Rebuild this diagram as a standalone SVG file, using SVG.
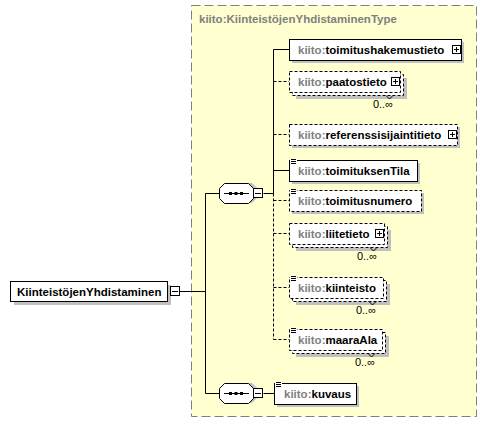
<svg xmlns="http://www.w3.org/2000/svg" width="487" height="424" viewBox="0 0 487 424">
<defs>
<style>
.t{font-family:"Liberation Sans",Arial,sans-serif;font-size:11.5px;font-weight:bold;fill:#000}
.ns{fill:#808080}
.occ{font-family:"Liberation Sans",Arial,sans-serif;font-size:11px;fill:#000}
.box{fill:#fff;stroke:#000;stroke-width:1}
.dbox{fill:#fff;stroke:#000;stroke-width:1;stroke-dasharray:3,2}
.sh{fill:#c0c0c0}
.ln{stroke:#000;stroke-width:1;fill:none}
.dl{stroke:#000;stroke-width:1;fill:none;stroke-dasharray:3,2}
</style>
<g id="plus"><rect x="0.5" y="0.5" width="8" height="8" fill="#fff" stroke="#000"/><path d="M2 4.5H7M4.5 2V7" stroke="#000"/></g>
<g id="minus"><rect x="0.5" y="0.5" width="9" height="9" fill="#fff" stroke="#000"/><path d="M2 5.5H8" stroke="#000"/></g>
<g id="icon"><rect x="0" y="0" width="7" height="6" fill="#fff"/><path d="M1 0.5H6M1 2.5H6M1 4.5H6" stroke="#000"/></g>
<g id="seq">
<polygon points="4,5 9,0 33,0 38,5 38,15 33,20 9,20 4,15" fill="#c0c0c0"/>
<polygon points="0.5,5.5 5.5,0.5 29.5,0.5 34.5,5.5 34.5,15.5 29.5,20.5 5.5,20.5 0.5,15.5" fill="#fff" stroke="#000"/>
<path d="M5 10.5H30" stroke="#000"/>
<rect x="10" y="9" width="3" height="3"/><rect x="15.5" y="9" width="3" height="3"/><rect x="21" y="9" width="3" height="3"/>
</g>
<path id="tick" d="M0 0L3.5 3.5L7 0" fill="none" stroke="#000"/>
</defs>

<g id="type">
<rect x="191.5" y="5.5" width="285" height="411" fill="#FFFFD0" stroke="#808080" stroke-dasharray="9,4"/>
<text x="199" y="23" class="t ns">kiito:KiinteistöjenYhdistaminenType</text>
</g>

<g id="connectors">
<path class="ln" d="M179 291.5H205.5M205.5 193.5V393.5M205.5 193.5H219M205.5 393.5H219"/>
<path class="ln" d="M263.5 193.5H273.5M273.5 49.5V193.5M273.5 49.5H289M273.5 170.5H289"/>
<path class="dl" d="M273.5 193.5V339.5"/>
<path class="dl" d="M273.5 81.5H289M273.5 134.5H289M273.5 200.5H289M273.5 233.5H289M273.5 287.5H289M273.5 339.5H289"/>
<path class="ln" d="M263.5 393.5H274.5"/>
</g>

<g id="root">
<rect class="sh" x="14" y="285" width="157" height="20"/>
<rect class="box" x="10.5" y="281.5" width="157" height="20"/>
<text class="t" x="17" y="296">KiinteistöjenYhdistaminen</text>
<use href="#minus" x="170" y="286"/>
</g>

<g id="sequence1">
<use href="#seq" x="219" y="183"/>
<use href="#minus" x="253" y="188"/>
</g>

<g id="sequence2">
<use href="#seq" x="219" y="383"/>
<use href="#minus" x="253" y="388"/>
</g>

<g id="toimitushakemustieto">
<rect class="sh" x="292" y="42" width="172" height="21"/>
<rect class="box" x="289.5" y="39.5" width="172" height="21"/>
<text class="t" x="298" y="54"><tspan class="ns">kiito:</tspan>toimitushakemustieto</text>
<use href="#plus" x="452" y="45"/>
</g>

<g id="paatostieto">
<rect class="sh" x="296" y="78" width="111" height="21"/>
<rect class="dbox" x="292.5" y="74.5" width="111" height="21"/>
<rect class="dbox" x="289.5" y="71.5" width="111" height="21"/>
<text class="t" x="298" y="86"><tspan class="ns">kiito:</tspan>paatostieto</text>
<use href="#plus" x="391" y="77"/>
<use href="#tick" x="386" y="95.5"/>
<text class="occ" x="393" y="108" text-anchor="end">0..∞</text>
</g>

<g id="referenssisijaintitieto">
<rect class="sh" x="292" y="127" width="168" height="21"/>
<rect class="dbox" x="289.5" y="124.5" width="168" height="21"/>
<text class="t" x="298" y="139"><tspan class="ns">kiito:</tspan>referenssisijaintitieto</text>
<use href="#plus" x="448" y="130"/>
</g>

<g id="toimituksenTila">
<rect class="sh" x="292" y="163" width="128" height="21"/>
<rect class="box" x="289.5" y="160.5" width="128" height="21"/>
<use href="#icon" x="290" y="159"/>
<text class="t" x="298" y="175"><tspan class="ns">kiito:</tspan>toimituksenTila</text>
</g>

<g id="toimitusnumero">
<rect class="sh" x="292" y="193" width="132" height="21"/>
<rect class="dbox" x="289.5" y="190.5" width="132" height="21"/>
<use href="#icon" x="290" y="189"/>
<text class="t" x="298" y="205"><tspan class="ns">kiito:</tspan>toimitusnumero</text>
</g>

<g id="liitetieto">
<rect class="sh" x="296" y="230" width="95" height="21"/>
<rect class="dbox" x="292.5" y="226.5" width="95" height="21"/>
<rect class="dbox" x="289.5" y="223.5" width="95" height="21"/>
<text class="t" x="298" y="238"><tspan class="ns">kiito:</tspan>liitetieto</text>
<use href="#plus" x="375" y="229"/>
<use href="#tick" x="370" y="247.5"/>
<text class="occ" x="377" y="260" text-anchor="end">0..∞</text>
</g>

<g id="kiinteisto">
<rect class="sh" x="296" y="284" width="94" height="21"/>
<rect class="dbox" x="292.5" y="280.5" width="94" height="21"/>
<rect class="dbox" x="289.5" y="277.5" width="94" height="21"/>
<use href="#icon" x="290" y="276"/>
<text class="t" x="298" y="292"><tspan class="ns">kiito:</tspan>kiinteisto</text>
<use href="#tick" x="369" y="301.5"/>
<text class="occ" x="376" y="314" text-anchor="end">0..∞</text>
</g>

<g id="maaraAla">
<rect class="sh" x="296" y="336" width="93" height="21"/>
<rect class="dbox" x="292.5" y="332.5" width="93" height="21"/>
<rect class="dbox" x="289.5" y="329.5" width="93" height="21"/>
<use href="#icon" x="290" y="328"/>
<text class="t" x="298" y="344"><tspan class="ns">kiito:</tspan>maaraAla</text>
<use href="#tick" x="368" y="353.5"/>
<text class="occ" x="375" y="366" text-anchor="end">0..∞</text>
</g>

<g id="kuvaus">
<rect class="sh" x="277" y="386" width="82" height="21"/>
<rect class="box" x="274.5" y="383.5" width="82" height="21"/>
<use href="#icon" x="275" y="382"/>
<text class="t" x="284" y="398"><tspan class="ns">kiito:</tspan>kuvaus</text>
</g>
</svg>
